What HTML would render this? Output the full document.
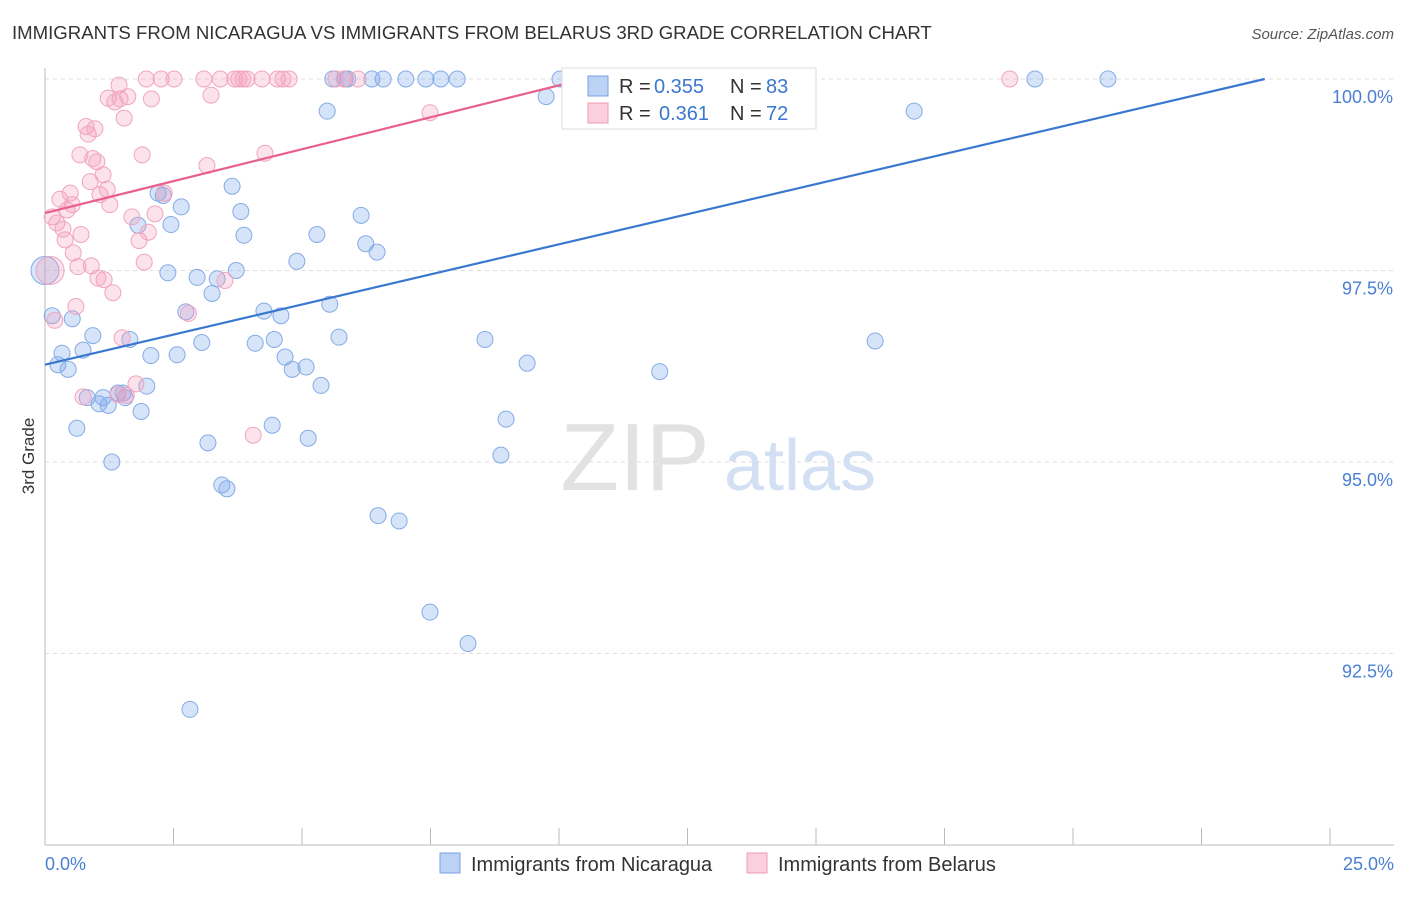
<!DOCTYPE html>
<html><head><meta charset="utf-8"><style>
body{margin:0;background:#fff;font-family:"Liberation Sans",sans-serif;}
svg text{font-family:"Liberation Sans",sans-serif;}
</style></head><body>
<svg id="chart" width="1406" height="892" xmlns="http://www.w3.org/2000/svg">
<text x="12" y="39" font-size="18.6" fill="#333">IMMIGRANTS FROM NICARAGUA VS IMMIGRANTS FROM BELARUS 3RD GRADE CORRELATION CHART</text>
<text x="1394" y="39" font-size="15" fill="#555" text-anchor="end" font-style="italic">Source: ZipAtlas.com</text>
<text x="34" y="456" font-size="17" fill="#333" text-anchor="middle" transform="rotate(-90 34 456)">3rd Grade</text>
<g><text x="635" y="490" font-size="96" fill="#e2e2e2" text-anchor="middle" font-family="Liberation Serif">ZIP</text><text x="800" y="490" font-size="72" fill="#d3e0f3" text-anchor="middle">atlas</text></g>
<g id="grid"></g><g id="axes"></g><g id="marks"></g><g id="legend"></g>
</svg>
<script>
const yTicks=[100,97.5,95,92.5];
const yTickLabels=["100.0%","97.5%","95.0%","92.5%"];
const xTickLabels=["0.0%","25.0%"];
const blueX=[0,0.14,0.25,0.33,0.45,0.53,0.62,0.74,0.82,0.93,1.05,1.13,1.23,1.3,1.42,1.52,1.56,1.65,1.81,1.87,1.98,2.06,2.2,2.3,2.39,2.45,2.57,2.65,2.74,2.82,2.96,3.05,3.17,3.25,3.35,3.44,3.54,3.64,3.72,3.81,3.87,4.09,4.26,4.42,4.46,4.59,4.67,4.81,4.9,5.08,5.12,5.29,5.37,5.49,5.54,5.6,5.72,5.84,5.89,6.15,6.24,6.36,6.46,6.48,6.58,6.89,7.02,7.41,7.49,7.7,8.02,8.23,8.56,8.87,8.97,9.38,9.75,10.02,11.96,16.15,16.91,19.26,20.68];
const blueY=[97.5,96.91,96.27,96.42,96.21,96.87,95.44,96.46,95.84,96.65,95.76,95.84,95.74,95.0,95.9,95.9,95.84,96.6,98.09,95.66,95.99,96.39,98.51,98.48,97.47,98.1,96.4,98.33,96.96,91.77,97.41,96.56,95.25,97.2,97.39,94.7,94.65,98.6,97.5,98.27,97.96,96.55,96.97,95.48,96.6,96.91,96.37,96.21,97.62,96.24,95.31,97.97,96.0,99.58,97.06,100,96.63,100,100,98.22,97.85,100,97.74,94.3,100,94.23,100,100,93.04,100,100,92.63,96.6,95.09,95.56,96.29,99.77,100,96.18,96.58,99.58,100,100];
const pinkX=[0.1,0.14,0.19,0.23,0.29,0.35,0.39,0.43,0.49,0.53,0.55,0.6,0.64,0.68,0.7,0.74,0.8,0.84,0.88,0.9,0.93,0.97,1.01,1.03,1.07,1.13,1.15,1.21,1.23,1.26,1.32,1.36,1.42,1.44,1.46,1.5,1.54,1.58,1.61,1.69,1.77,1.83,1.89,1.93,1.97,2.01,2.07,2.14,2.26,2.32,2.51,2.79,3.09,3.15,3.23,3.41,3.5,3.69,3.77,3.85,3.93,4.05,4.22,4.28,4.52,4.63,4.75,5.66,5.82,6.09,7.49,18.77];
const pinkY=[97.5,98.2,96.85,98.12,98.43,98.04,97.9,98.29,98.51,98.36,97.73,97.03,97.55,99.01,97.97,95.85,99.38,99.28,98.66,97.56,98.96,99.35,98.92,97.4,98.49,98.75,97.38,98.56,99.75,98.36,97.21,99.7,95.88,99.92,99.74,96.62,99.49,95.87,99.77,98.2,96.02,97.89,99.01,97.61,100,98.0,99.74,98.24,100,98.51,100,96.94,100,98.87,99.79,100,97.37,100,100,100,100,95.35,100,99.03,100,100,100,100,100,100,99.56,100];
const blueLine=[0,96.27,23.73,100];
const pinkLine=[0,98.25,10.5,100];
const X=v=>45+v*51.4, Y=v=>79+(100-v)*76.6;
const NS="http://www.w3.org/2000/svg";
function mk(tag,attrs,parent){const e=document.createElementNS(NS,tag);for(const k in attrs)e.setAttribute(k,attrs[k]);parent.appendChild(e);return e;}
const grid=document.getElementById('grid'),axes=document.getElementById('axes'),marks=document.getElementById('marks'),legend=document.getElementById('legend');
yTicks.forEach((t,i)=>{
 const l=mk('line',{x1:45,x2:1394,y1:Y(t),y2:Y(t),stroke:'#ddd','stroke-dasharray':'4,4'},grid);
 
 
 const tx=mk('text',{x:1393,y:Y(t)+24,'font-size':18,fill:'#4a7fd4','text-anchor':'end'},axes);
 tx.textContent=yTickLabels[i];
 
 
});
const xa=mk('line',{x1:45,x2:1394,y1:845,y2:845,stroke:'#bbb'},axes);


const ya=mk('line',{x1:45,x2:45,y1:68,y2:845,stroke:'#bbb'},axes);


for(let i=0;i<=10;i++){const tk=mk('line',{x1:X(i*2.5),x2:X(i*2.5),y1:828,y2:845,stroke:'#bbb'},axes);
 
 }
const xl0=mk('text',{x:45,y:870,'font-size':18,fill:'#4a7fd4'},axes);xl0.textContent=xTickLabels[0];


const xl1=mk('text',{x:1394,y:870,'font-size':18,fill:'#4a7fd4','text-anchor':'end'},axes);xl1.textContent=xTickLabels[1];


function pts(xs,ys,fill,stroke,name){xs.forEach((x,i)=>{const r=(i===0)?14:8;const c=mk('circle',{cx:X(x),cy:Y(ys[i]),r:r,fill:fill,stroke:stroke,'stroke-width':1},marks);
 
 });}
pts(blueX,blueY,'rgba(120,165,235,0.3)','#86abe6','nicaragua-point');
pts(pinkX,pinkY,'rgba(245,160,190,0.3)','#f0a5be','belarus-point');
const bl=mk('line',{x1:X(blueLine[0]),y1:Y(blueLine[1]),x2:X(blueLine[2]),y2:Y(blueLine[3]),stroke:'#3a78d0','stroke-width':2.2},marks);


const pl=mk('line',{x1:X(pinkLine[0]),y1:Y(pinkLine[1]),x2:X(pinkLine[2]),y2:Y(pinkLine[3]),stroke:'#e8608c','stroke-width':2.2},marks);


const lb=mk('rect',{x:562,y:68,width:254,height:61,fill:'#fff',stroke:'#ddd'},legend);


[['0.355','83','rgba(120,165,235,0.5)','#7aa3e3',86,654],['0.361','72','rgba(245,160,190,0.5)','#ee9bb7',113,659]].forEach(d=>{
 const s=mk('rect',{x:588,y:d[4]-10,width:20,height:20,fill:d[2],stroke:d[3]},legend);
 
 
 const parts=[['R =',619,'#333'],[d[0],d[5],'#3a78d0'],['N =',730,'#333'],[d[1],766,'#3a78d0']];
 parts.forEach(p=>{
  const t=mk('text',{x:p[1],y:d[4]+7,'font-size':20,fill:p[2]},legend);
  t.textContent=p[0];
  
  
 });
});
[['Immigrants from Nicaragua',440,'rgba(120,165,235,0.5)','#7aa3e3'],['Immigrants from Belarus',747,'rgba(245,160,190,0.5)','#ee9bb7']].forEach(d=>{
 const s=mk('rect',{x:d[1],y:853,width:20,height:20,fill:d[2],stroke:d[3]},legend);
 
 
 const t=mk('text',{x:d[1]+31,y:871,'font-size':20,fill:'#333'},legend);t.textContent=d[0];
 
 
});
</script>
</body></html>
